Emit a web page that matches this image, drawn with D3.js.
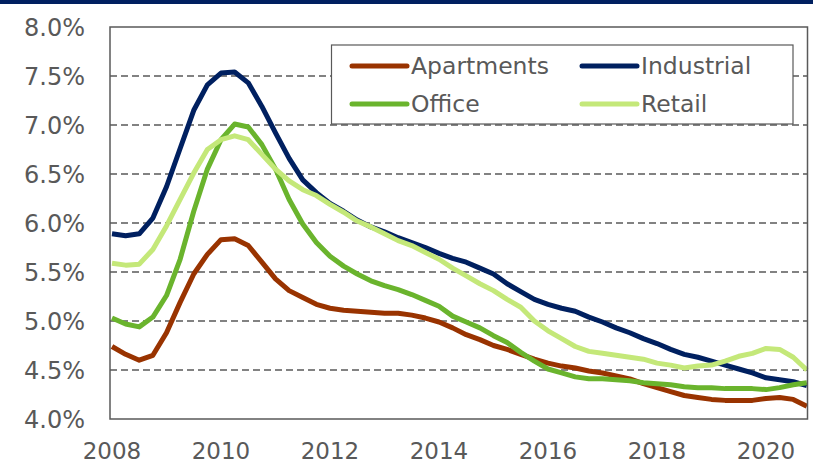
<!DOCTYPE html>
<html>
<head>
<meta charset="utf-8">
<script src="https://cdn.jsdelivr.net/npm/d3@7"></script>
<style>
  body { margin: 0; background: #fff; }
  svg { display: block; }
  text { font-family: 'DejaVu Sans', Verdana, sans-serif; fill: #595959; }
</style>
</head>
<body>
<svg id="chart" width="813" height="464"></svg>
<script>
// quarterly cap rates, 2008 Q1 .. 2020 Q4
const startYear = 2008;
const yearTicks = [2008, 2010, 2012, 2014, 2016, 2018, 2020];
const rateTicks = [4.0, 4.5, 5.0, 5.5, 6.0, 6.5, 7.0, 7.5, 8.0];

const apartments = [4.74, 4.66, 4.60, 4.65, 4.88, 5.19, 5.48, 5.68, 5.83, 5.84, 5.77, 5.60,
  5.43, 5.31, 5.24, 5.17, 5.13, 5.11, 5.10, 5.09, 5.08, 5.08, 5.06, 5.03,
  4.99, 4.93, 4.86, 4.81, 4.75, 4.71, 4.66, 4.61, 4.57, 4.54, 4.52, 4.49,
  4.47, 4.44, 4.41, 4.36, 4.32, 4.28, 4.24, 4.22, 4.20, 4.19, 4.19, 4.19,
  4.21, 4.22, 4.20, 4.13];
const industrial = [5.89, 5.87, 5.89, 6.05, 6.37, 6.76, 7.15, 7.41, 7.53, 7.54, 7.43, 7.19,
  6.92, 6.66, 6.44, 6.31, 6.20, 6.12, 6.03, 5.96, 5.91, 5.85, 5.80, 5.75,
  5.69, 5.64, 5.60, 5.54, 5.48, 5.38, 5.30, 5.22, 5.17, 5.13, 5.10, 5.04,
  4.99, 4.93, 4.88, 4.82, 4.77, 4.71, 4.66, 4.63, 4.59, 4.55, 4.51, 4.47,
  4.42, 4.40, 4.38, 4.34];
const office = [5.03, 4.97, 4.94, 5.04, 5.26, 5.63, 6.12, 6.55, 6.85, 7.01, 6.98, 6.80,
  6.55, 6.24, 5.99, 5.80, 5.66, 5.56, 5.48, 5.41, 5.36, 5.32, 5.27, 5.21,
  5.15, 5.05, 4.99, 4.93, 4.85, 4.78, 4.68, 4.59, 4.51, 4.47, 4.43, 4.41,
  4.41, 4.40, 4.39, 4.37, 4.36, 4.35, 4.33, 4.32, 4.32, 4.31, 4.31, 4.31,
  4.30, 4.32, 4.35, 4.37];
const retail = [5.59, 5.57, 5.58, 5.73, 5.97, 6.24, 6.51, 6.75, 6.85, 6.89, 6.85, 6.70,
  6.55, 6.43, 6.34, 6.28, 6.19, 6.11, 6.02, 5.96, 5.89, 5.82, 5.77, 5.70,
  5.63, 5.54, 5.46, 5.38, 5.31, 5.22, 5.14, 5.00, 4.90, 4.82, 4.74, 4.69,
  4.67, 4.65, 4.63, 4.61, 4.57, 4.55, 4.52, 4.54, 4.55, 4.59, 4.64, 4.67,
  4.72, 4.71, 4.63, 4.50];

const seriesNames = ['Apartments', 'Industrial', 'Office', 'Retail'];
const seriesValues = [apartments, industrial, office, retail];
const colors = ['#993300', '#002060', '#6AB42D', '#C4E879'];

const svg = d3.select('#chart');
const plotL = 110, plotR = 807.5, plotT = 27, plotB = 419;

const x = d3.scaleLinear().domain([2008, 2020]).range([112, 766]);
const y = d3.scaleLinear().domain([4, 8]).range([plotB, plotT]);

// navy band on top
svg.append('rect').attr('x', 0).attr('y', 0).attr('width', 813).attr('height', 4).attr('fill', '#002060');

// gridlines
svg.append('g')
  .selectAll('line')
  .data(rateTicks.filter(d => d > 4 && d < 8))
  .join('line')
  .attr('x1', plotL).attr('x2', plotR)
  .attr('y1', d => y(d)).attr('y2', d => y(d))
  .attr('stroke', '#595959')
  .attr('stroke-width', 1.5)
  .attr('stroke-dasharray', '7,4');

// y labels
svg.append('g')
  .selectAll('text')
  .data(rateTicks)
  .join('text')
  .attr('x', 85)
  .attr('y', d => y(d))
  .attr('dy', '0.38em')
  .attr('text-anchor', 'end')
  .attr('font-size', 24)
  .text(d => d.toFixed(1) + '%');

// x labels
svg.append('g')
  .selectAll('text')
  .data(yearTicks)
  .join('text')
  .attr('x', d => x(d))
  .attr('y', 459)
  .attr('text-anchor', 'middle')
  .attr('font-size', 23)
  .text(d => d);

// lines
const line = d3.line()
  .x((d, i) => x(startYear + i / 4))
  .y(d => y(d));

svg.append('g')
  .selectAll('path')
  .data(seriesValues)
  .join('path')
  .attr('d', d => line(d))
  .attr('fill', 'none')
  .attr('stroke', (d, i) => colors[i])
  .attr('stroke-width', 5)
  .attr('stroke-linejoin', 'round');

// plot frame
svg.append('rect')
  .attr('x', plotL).attr('y', plotT)
  .attr('width', plotR - plotL).attr('height', plotB - plotT)
  .attr('fill', 'none')
  .attr('stroke', '#595959')
  .attr('stroke-width', 1.5);

// legend
const legend = svg.append('g');
legend.append('rect')
  .attr('x', 331.5).attr('y', 45)
  .attr('width', 461.5).attr('height', 79)
  .attr('fill', '#fff')
  .attr('stroke', '#595959')
  .attr('stroke-width', 1.2);

const legendPos = [[352, 66], [582, 66], [352, 104], [582, 104]];
seriesNames.forEach((name, i) => {
  const [lx, ly] = legendPos[i];
  legend.append('line')
    .attr('x1', lx).attr('x2', lx + 55)
    .attr('y1', ly).attr('y2', ly)
    .attr('stroke', colors[i])
    .attr('stroke-width', 5)
    .attr('stroke-linecap', 'round');
  legend.append('text')
    .attr('x', lx + 59)
    .attr('y', ly)
    .attr('dy', '0.36em')
    .attr('font-size', 23.5)
    .text(name);
});
</script>
</body>
</html>
